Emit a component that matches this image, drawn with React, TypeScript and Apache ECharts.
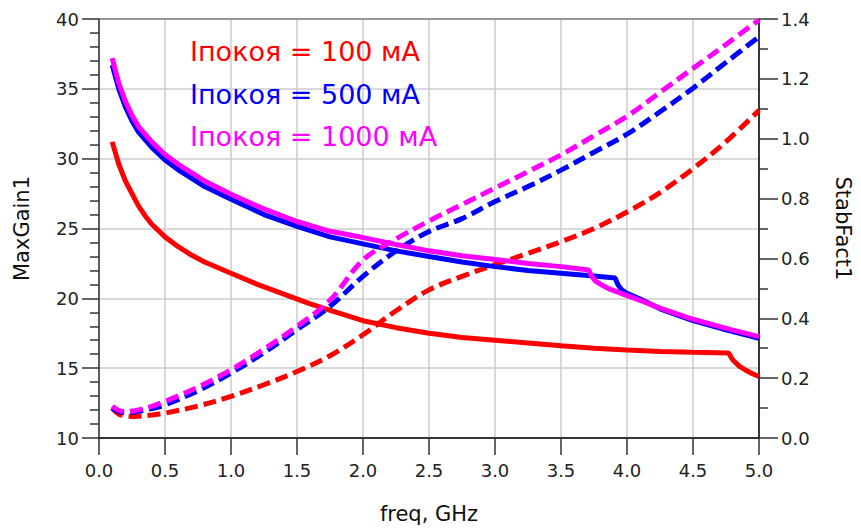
import React, { useEffect, useRef } from "react";
import * as echarts from "echarts";

const FONT = "DejaVu Sans";

// MaxGain1 (solid, left axis)
const gainFreq100 = [0.1, 0.15, 0.2, 0.25, 0.3, 0.35, 0.4, 0.5, 0.6, 0.7, 0.8, 1.0, 1.2, 1.4, 1.6, 1.8, 2.0, 2.25, 2.5, 2.75, 3.0, 3.25, 3.5, 3.75, 4.0, 4.25, 4.5, 4.77, 4.8, 4.85, 4.9, 4.95, 5.0];
const gain100 = [31.2, 29.6, 28.4, 27.5, 26.6, 25.9, 25.3, 24.4, 23.7, 23.1, 22.6, 21.8, 21.0, 20.3, 19.6, 19.0, 18.4, 17.9, 17.5, 17.2, 17.0, 16.8, 16.6, 16.42, 16.3, 16.2, 16.14, 16.08, 15.6, 15.15, 14.85, 14.6, 14.4];

const gainFreq500 = [0.1, 0.15, 0.2, 0.25, 0.3, 0.4, 0.5, 0.6, 0.7, 0.8, 1.0, 1.25, 1.5, 1.75, 2.0, 2.25, 2.5, 2.75, 3.0, 3.25, 3.5, 3.75, 3.91, 3.93, 3.96, 4.0, 4.1, 4.25, 4.5, 4.75, 5.0];
const gain500 = [36.7, 35.0, 33.7, 32.7, 31.9, 30.8, 29.9, 29.2, 28.6, 28.0, 27.1, 26.0, 25.15, 24.4, 23.9, 23.4, 23.0, 22.6, 22.27, 22.0, 21.8, 21.6, 21.46, 21.0, 20.6, 20.36, 19.95, 19.25, 18.4, 17.75, 17.14];

const gainFreq1000 = [0.1, 0.15, 0.2, 0.25, 0.3, 0.4, 0.5, 0.6, 0.7, 0.8, 1.0, 1.25, 1.5, 1.75, 2.0, 2.25, 2.5, 2.75, 3.0, 3.25, 3.5, 3.71, 3.73, 3.76, 3.8, 3.86, 3.93, 4.0, 4.1, 4.25, 4.5, 4.75, 5.0];
const gain1000 = [37.2, 35.4, 34.1, 33.1, 32.3, 31.2, 30.3, 29.6, 29.0, 28.4, 27.45, 26.4, 25.5, 24.8, 24.35, 23.85, 23.4, 23.05, 22.78, 22.5, 22.27, 22.03, 21.6, 21.25, 21.0, 20.7, 20.45, 20.2, 19.85, 19.3, 18.5, 17.85, 17.26];

// StabFact1 (dashed, right axis)
const stabFreq = [0.1, 0.15, 0.2, 0.25, 0.3, 0.4, 0.5, 0.75, 1.0, 1.25, 1.5, 1.75, 2.0, 2.25, 2.5, 2.75, 3.0, 3.25, 3.5, 3.75, 4.0, 4.25, 4.5, 4.75, 5.0];
const stab100 = [0.1, 0.08, 0.074, 0.072, 0.073, 0.077, 0.083, 0.107, 0.139, 0.178, 0.222, 0.275, 0.345, 0.425, 0.495, 0.54, 0.579, 0.617, 0.656, 0.7, 0.755, 0.82, 0.9, 0.99, 1.095];
const stab500 = [0.1, 0.088, 0.085, 0.086, 0.089, 0.098, 0.111, 0.158, 0.217, 0.285, 0.362, 0.44, 0.54, 0.625, 0.69, 0.733, 0.79, 0.84, 0.895, 0.955, 1.015, 1.09, 1.169, 1.255, 1.341];
const stab1000 = [0.106, 0.092, 0.089, 0.09, 0.094, 0.106, 0.122, 0.17, 0.228, 0.297, 0.373, 0.46, 0.595, 0.665, 0.725, 0.78, 0.835, 0.89, 0.946, 1.01, 1.075, 1.155, 1.235, 1.315, 1.397];

const legendLabels = ["Іпокоя = 100 мА", "Іпокоя = 500 мА", "Іпокоя = 1000 мА"];
const colors = ["#ff0000", "#0000ff", "#ff00ff"];

const pairs = (xs: number[], ys: number[]) => xs.map((x, i) => [x, ys[i]]);

export default function App() {
  const ref = useRef<HTMLDivElement>(null);
  useEffect(() => {
    if (!ref.current) return;
    const chart = echarts.init(ref.current, undefined, { renderer: "svg" });
    const labelStyle = { fontFamily: FONT, fontSize: 18, color: "#222" };
    const nameStyle = { fontFamily: FONT, fontSize: 21, color: "#111" };
    const solid = (name: string, data: number[][], color: string) => ({
      name, type: "line", data, xAxisIndex: 0, yAxisIndex: 0, showSymbol: false, symbol: "none",
      lineStyle: { color, width: 5 }, z: 3,
    });
    const dashed = (name: string, data: number[][], color: string) => ({
      name, type: "line", data, xAxisIndex: 0, yAxisIndex: 1, showSymbol: false, symbol: "none",
      smooth: 0.35,
      lineStyle: { color, width: 5, type: [13, 6] }, z: 3,
    });
    chart.setOption({
      animation: false,
      backgroundColor: "#ffffff",
      grid: { left: 99, right: 100, top: 19, bottom: 92, containLabel: false },
      xAxis: [
        {
          type: "value", min: 0, max: 5, interval: 0.5, position: "bottom",
          axisLine: { show: true, onZero: false, lineStyle: { color: "#000", width: 1.5 } },
          axisTick: { show: true, length: 17, lineStyle: { color: "#333", width: 1.5 } },
          axisLabel: { ...labelStyle, margin: 23, formatter: (v: number) => v.toFixed(1) },
          splitLine: { show: true, lineStyle: { color: "#cccccc", width: 1.5 } },
          name: "freq, GHz", nameLocation: "middle", nameGap: 65, nameTextStyle: nameStyle,
        },
        {
          type: "value", min: 0, max: 5, position: "top",
          axisLine: { show: true, onZero: false, lineStyle: { color: "#808080", width: 1.5 } },
          axisTick: { show: false }, axisLabel: { show: false }, splitLine: { show: false },
        },
      ],
      yAxis: [
        {
          type: "value", min: 10, max: 40, interval: 5, position: "left",
          axisLine: { show: true, onZero: false, lineStyle: { color: "#333", width: 1.5 } },
          axisTick: { show: true, length: 17, lineStyle: { color: "#333", width: 1.5 } },
          minorTick: { show: true, splitNumber: 5, length: 9, lineStyle: { color: "#333", width: 1.5 } },
          axisLabel: { ...labelStyle, margin: 20 },
          splitLine: { show: true, lineStyle: { color: "#cccccc", width: 1.5 } },
          name: "MaxGain1", nameLocation: "middle", nameGap: 67, nameRotate: 90, nameTextStyle: nameStyle,
        },
        {
          type: "value", min: 0, max: 1.4, interval: 0.2, position: "right",
          axisLine: { show: true, onZero: false, lineStyle: { color: "#000", width: 1.5 } },
          axisTick: { show: true, length: 19, lineStyle: { color: "#333", width: 1.5 } },
          minorTick: { show: true, splitNumber: 2, length: 9, lineStyle: { color: "#333", width: 1.5 } },
          axisLabel: { ...labelStyle, margin: 22, formatter: (v: number) => v.toFixed(1) },
          splitLine: { show: false },
          name: "StabFact1", nameLocation: "middle", nameGap: 73, nameRotate: -90, nameTextStyle: nameStyle,
        },
      ],
      series: [
        solid("MaxGain1 100", pairs(gainFreq100, gain100), colors[0]),
        dashed("StabFact1 100", pairs(stabFreq, stab100), colors[0]),
        solid("MaxGain1 500", pairs(gainFreq500, gain500), colors[1]),
        dashed("StabFact1 500", pairs(stabFreq, stab500), colors[1]),
        solid("MaxGain1 1000", pairs(gainFreq1000, gain1000), colors[2]),
        dashed("StabFact1 1000", pairs(stabFreq, stab1000), colors[2]),
      ],
      graphic: legendLabels.map((t, i) => ({
        type: "text", left: 190, top: 38 + i * 42.5, z: 10,
        style: { text: t, fill: colors[i], font: `27px '${FONT}'` },
      })),
    });
    return () => chart.dispose();
  }, []);
  return <div ref={ref} style={{ position: "fixed", left: 0, top: 0, width: 861, height: 530 }} />;
}
